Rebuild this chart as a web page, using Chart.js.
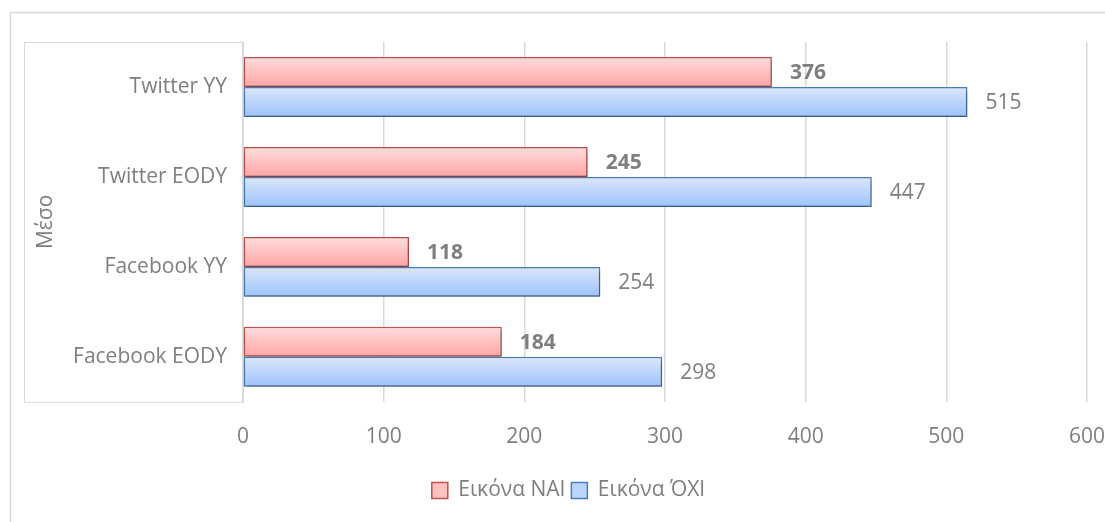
<!DOCTYPE html>
<html>
<head>
<meta charset="utf-8">
<script src="https://cdn.jsdelivr.net/npm/chart.js@4"></script>
<style>
  html, body { margin: 0; padding: 0; background: #fff; }
  #wrap { width: 1105px; height: 522px; }
</style>
</head>
<body>
<div id="wrap"><canvas id="mesoChart" width="1105" height="522"></canvas></div>
<script>
// Δεδομένα
const categories = ['Twitter YY', 'Twitter EODY', 'Facebook YY', 'Facebook EODY'];
const seriesNames = ['Εικόνα ΝΑΙ', 'Εικόνα ΌΧΙ'];
const valuesNai = [376, 245, 118, 184];
const valuesOxi = [515, 447, 254, 298];
const xTicks = [0, 100, 200, 300, 400, 500, 600];
const axisTitle = 'Μέσο';

const grey = '#7f7f7f';
const gridGrey = '#d9d9d9';
const font = 'Open Sans';
const fontSize = 21;

// gradient colours for each series (top, bottom)
const grads = [['#ffdede', '#ffa4a4'], ['#dce7fb', '#9cc2fb']];

// frame + the box round the category labels
const framePlugin = {
    id: 'frame',
    afterUpdate(chart) {
        // legend sits a bit right of the canvas centre
        chart.legend.left += 16;
        chart.legend.right += 16;
    },
    beforeDraw(chart) {
        const ctx = chart.ctx;
        const area = chart.chartArea;
        ctx.save();
        ctx.strokeStyle = gridGrey;
        ctx.lineWidth = 1.5;
        ctx.strokeRect(10.5, 12.5, chart.width + 20, chart.height + 20);
        ctx.lineWidth = 1;
        ctx.strokeRect(24.5, area.top + 0.5, area.left - 24, area.bottom - area.top);
        ctx.restore();
    }
};

// gradient fill, shadow and value labels
const barsPlugin = {
    id: 'bars',
    beforeDatasetsDraw(chart) {
        const ctx = chart.ctx;
        chart.data.datasets.forEach((ds, di) => {
            chart.getDatasetMeta(di).data.forEach(el => {
                const top = el.y - el.height / 2;
                const g = ctx.createLinearGradient(0, top, 0, top + el.height);
                g.addColorStop(0, grads[di][0]);
                g.addColorStop(1, grads[di][1]);
                el.options = Object.assign({}, el.options, { backgroundColor: g });
            });
        });
        ctx.save();
        ctx.shadowColor = 'rgba(0,0,0,0.35)';
        ctx.shadowBlur = 4;
        ctx.shadowOffsetX = 1;
        ctx.shadowOffsetY = 3;
    },
    afterDatasetsDraw(chart) {
        const ctx = chart.ctx;
        ctx.restore();
        ctx.save();
        ctx.fillStyle = grey;
        ctx.textBaseline = 'middle';
        ctx.textAlign = 'left';
        chart.data.datasets.forEach((ds, di) => {
            ctx.font = (di === 0 ? 'bold ' : '') + fontSize + 'px "' + font + '"';
            chart.getDatasetMeta(di).data.forEach((el, i) => {
                ctx.fillText(String(ds.data[i]), el.x + 18, el.y + 1);
            });
        });
        ctx.restore();
    }
};

new Chart(document.getElementById('mesoChart').getContext('2d'), {
    type: 'bar',
    data: {
        labels: categories,
        datasets: [{
            label: seriesNames[0],
            data: valuesNai,
            backgroundColor: '#ffc0c0',
            borderColor: '#c0504d',
            borderWidth: 1.5,
            borderSkipped: false,
        }, {
            label: seriesNames[1],
            data: valuesOxi,
            backgroundColor: '#bed5fb',
            borderColor: '#4a7ebb',
            borderWidth: 1.5,
            borderSkipped: false,
        }],
    },
    options: {
        indexAxis: 'y',
        responsive: false,
        animation: false,
        categoryPercentage: 0.667,
        barPercentage: 1,
        layout: { padding: { left: 0, top: 42, right: 0, bottom: 11 } },
        plugins: {
            legend: {
                position: 'bottom',
                labels: {
                    color: grey,
                    font: { family: font, size: fontSize },
                    boxWidth: 16,
                    boxHeight: 16,
                    padding: 6,
                },
            },
            tooltip: { enabled: false },
        },
        scales: {
            x: {
                min: 0,
                max: 600,
                afterBuildTicks: s => { s.ticks = xTicks.map(v => ({ value: v })); },
                afterFit: s => { s.height += 1; s.paddingRight = 18; },
                grid: { color: gridGrey, drawTicks: false, lineWidth: 1.5 },
                border: { display: false },
                ticks: { color: grey, font: { family: font, size: fontSize }, padding: 23 },
            },
            y: {
                afterFit: s => { s.width = 243; },
                grid: { display: false, drawTicks: false },
                border: { display: false },
                ticks: { color: grey, font: { family: font, size: fontSize }, padding: 16 },
                title: {
                    display: true,
                    text: axisTitle,
                    color: grey,
                    font: { family: font, size: fontSize },
                    padding: { top: 33, bottom: 0 },
                },
            },
        },
    },
    plugins: [framePlugin, barsPlugin],
});
</script>
</body>
</html>
